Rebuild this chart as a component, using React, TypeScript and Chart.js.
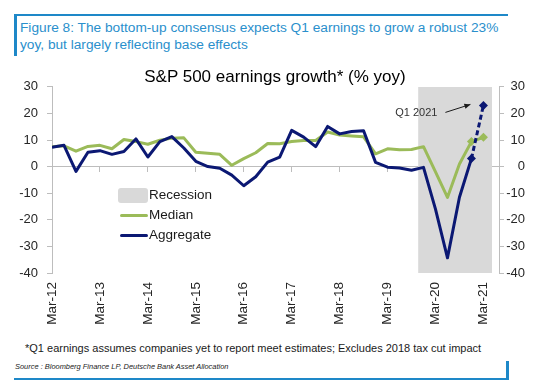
import React, { useEffect, useRef } from 'react';
import { Chart, registerables } from 'chart.js';

Chart.register(...registerables);

// ---- data (quarterly, Mar-12 .. Mar-21) ----
const yearTickLabels = ['Mar-12', 'Mar-13', 'Mar-14', 'Mar-15', 'Mar-16', 'Mar-17', 'Mar-18', 'Mar-19', 'Mar-20', 'Mar-21'];
const yearTickQuarters = [0, 4, 8, 12, 16, 20, 24, 28, 32, 36];
const medianGrowth = [7.5, 7.8, 5.8, 7.6, 8, 6.7, 10.2, 9.4, 8.4, 9.9, 10.7, 10.8, 5.4, 5, 4.6, 0.5, 3, 5.2, 8.7, 8.6, 9.4, 9.8, 9.8, 13, 11.9, 11.5, 11.2, 4.8, 6.7, 6.3, 6.4, 7.5, -2, -11.6, 1, 9.4, 11];
const aggregateGrowth = [7.3, 8, -1.8, 5.4, 6, 4.6, 5.7, 10.4, 3.6, 9.4, 11.3, 7, 2, 0, -0.6, -3.2, -7.2, -3.8, 1.7, 3.6, 13.6, 11.1, 7.5, 15.1, 12.3, 13.2, 13.5, 1.6, -0.2, -0.5, -1.4, -0.3, -16, -34.3, -11.5, 3, 23];
const recessionSpan = [30.55, 36.72];
const xMax = 37.3;
const yMin = -40;
const yMax = 30;
const yStep = 10;
const estimateFromIndex = 35;
const annotationIndex = 36;
const annotationText = 'Q1 2021';

const NAVY = '#0b1873';
const GREEN = '#9bbb59';
const GREY_FILL = '#d9d9d9';
const AXIS = '#bdbdbd';
const TICK_TEXT = '#262626';
const FONT = "'Liberation Sans', Arial, sans-serif";

const q1Annotation = {
  id: 'q1Annotation',
  afterDatasetsDraw(chart: any) {
    const meta = chart.getDatasetMeta(0);
    const pt = meta.data[annotationIndex];
    if (!pt) return;
    const ctx = chart.ctx;
    const x = pt.x;
    const y = pt.y;
    const x1 = x - 38, y1 = y + 7, x2 = x - 13, y2 = y - 1;
    ctx.save();
    ctx.strokeStyle = '#1a1a1a';
    ctx.fillStyle = '#1a1a1a';
    ctx.lineWidth = 1;
    ctx.beginPath();
    ctx.moveTo(x1, y1);
    ctx.lineTo(x2, y2);
    ctx.stroke();
    const ang = Math.atan2(y2 - y1, x2 - x1);
    const hl = 6, hw = 2.6;
    ctx.beginPath();
    ctx.moveTo(x2, y2);
    ctx.lineTo(x2 - hl * Math.cos(ang) + hw * Math.sin(ang), y2 - hl * Math.sin(ang) - hw * Math.cos(ang));
    ctx.lineTo(x2 - hl * Math.cos(ang) - hw * Math.sin(ang), y2 - hl * Math.sin(ang) + hw * Math.cos(ang));
    ctx.closePath();
    ctx.fill();
    ctx.font = `11px ${FONT}`;
    ctx.fillStyle = '#333333';
    ctx.textAlign = 'right';
    ctx.textBaseline = 'middle';
    ctx.fillText(annotationText, x - 46, y + 8);
    ctx.restore();
  },
};

function setYearTicks(scale: any) {
  scale.ticks = yearTickQuarters.map((v) => ({ value: v }));
}

export default function App() {
  const canvasRef = useRef<HTMLCanvasElement | null>(null);

  useEffect(() => {
    if (!canvasRef.current) return;
    Chart.defaults.font.family = FONT;
    const pointSizes = (n: number) => Array.from({ length: n }, (_, i) => (i >= estimateFromIndex ? 4.5 : 0));
    const chart = new Chart(canvasRef.current, {
      type: 'line',
      data: {
        datasets: [
          {
            label: 'Aggregate',
            data: aggregateGrowth.map((v, i) => ({ x: i, y: v })),
            borderColor: NAVY,
            backgroundColor: NAVY,
            borderWidth: 3,
            borderJoinStyle: 'round',
            pointStyle: 'rectRot',
            pointRadius: pointSizes(aggregateGrowth.length),
            pointBackgroundColor: NAVY,
            pointBorderColor: NAVY,
            pointBorderWidth: 0,
            tension: 0,
            fill: false,
            order: 1,
            segment: {
              borderDash: (ctx: any) => (ctx.p0DataIndex >= estimateFromIndex ? [5, 3] : undefined),
            },
          } as any,
          {
            label: 'Median',
            data: medianGrowth.map((v, i) => ({ x: i, y: v })),
            borderColor: GREEN,
            backgroundColor: GREEN,
            borderWidth: 3,
            borderJoinStyle: 'round',
            pointStyle: 'rectRot',
            pointRadius: pointSizes(medianGrowth.length),
            pointBackgroundColor: GREEN,
            pointBorderColor: GREEN,
            pointBorderWidth: 0,
            tension: 0,
            fill: false,
            order: 2,
          } as any,
          {
            label: 'Recession',
            data: [
              { x: recessionSpan[0], y: yMax },
              { x: recessionSpan[1], y: yMax },
            ],
            borderWidth: 0,
            borderColor: 'rgba(0,0,0,0)',
            backgroundColor: GREY_FILL,
            pointRadius: 0,
            fill: { value: yMin },
            order: 3,
          } as any,
        ],
      },
      options: {
        animation: false,
        responsive: false,
        events: [],
        layout: { padding: { top: 16, left: 0, right: 0, bottom: 0 } },
        plugins: {
          legend: { display: false },
          tooltip: { enabled: false },
        },
        scales: {
          x: {
            type: 'linear',
            position: 'bottom',
            min: 0,
            max: xMax,
            afterBuildTicks: setYearTicks,
            afterFit: (s: any) => {
              s.height = 62;
            },
            grid: { display: false, drawTicks: false },
            border: { display: false },
            ticks: {
              autoSkip: false,
              minRotation: 90,
              maxRotation: 90,
              padding: 9,
              color: TICK_TEXT,
              font: { size: 13.5, family: FONT },
              callback: (_v: any, i: number) => yearTickLabels[i],
            },
          },
          xZero: {
            type: 'linear',
            axis: 'x',
            position: { y: 0 },
            min: 0,
            max: xMax,
            afterBuildTicks: setYearTicks,
            grid: { drawOnChartArea: false, drawTicks: true, tickLength: 5, color: AXIS },
            border: { display: true, color: AXIS, width: 1 },
            ticks: { display: false },
          },
          y: {
            type: 'linear',
            position: 'left',
            min: yMin,
            max: yMax,
            afterFit: (s: any) => {
              s.width = 44;
            },
            grid: { drawOnChartArea: false, tickLength: 5, color: AXIS },
            border: { display: true, color: AXIS },
            ticks: { stepSize: yStep, padding: 9, color: TICK_TEXT, font: { size: 13, family: FONT } },
          },
          y2: {
            type: 'linear',
            position: 'right',
            min: yMin,
            max: yMax,
            afterFit: (s: any) => {
              s.width = 26;
            },
            grid: { drawOnChartArea: false, tickLength: 5, color: AXIS },
            border: { display: true, color: AXIS },
            ticks: { stepSize: yStep, crossAlign: 'far', padding: 3, color: TICK_TEXT, font: { size: 13, family: FONT } },
          },
        } as any,
      },
      plugins: [q1Annotation],
    });
    return () => chart.destroy();
  }, []);

  const blue = '#1e88c8';
  const abs = (o: React.CSSProperties): React.CSSProperties => ({ position: 'absolute', ...o });

  return (
    <div style={{ position: 'relative', width: 535, height: 375, fontFamily: FONT }}>
      {/* frame */}
      <div style={abs({ left: 6, top: 6, width: 494, height: 2, background: blue })} />
      <div style={abs({ left: 6, top: 6, width: 2.5, height: 42, background: blue })} />
      <div style={abs({ left: 6, top: 369.5, width: 494.5, height: 2.5, background: blue })} />
      <div style={abs({ left: 498, top: 353, width: 2.5, height: 19, background: blue })} />
      <div style={abs({ left: 12, top: 12, fontSize: 13.7, lineHeight: '16.5px', color: '#2a8fcc', whiteSpace: 'nowrap' })}>
        Figure 8: The bottom-up consensus expects Q1 earnings to grow a robust 23%
        <br />
        yoy, but largely reflecting base effects
      </div>
      <canvas
        ref={canvasRef}
        width={517}
        height={265}
        style={abs({ left: 0, top: 62, width: 517, height: 265 })}
      />
      <div style={abs({ left: 0, top: 59.5, width: 534, textAlign: 'center', fontSize: 17, lineHeight: '18px', color: '#000', whiteSpace: 'nowrap' })}>
        S&amp;P 500 earnings growth* (% yoy)
      </div>
      {/* legend */}
      <div style={abs({ left: 110.3, top: 180.3, width: 30, height: 14.5, background: GREY_FILL, borderRadius: 3 })} />
      <div style={abs({ left: 141, top: 177, fontSize: 13.5, lineHeight: '20px', color: '#1a1a1a' })}>Recession</div>
      <div style={abs({ left: 112, top: 205.5, width: 28, height: 3, background: GREEN, borderRadius: 1.5 })} />
      <div style={abs({ left: 141, top: 197, fontSize: 13.5, lineHeight: '20px', color: '#1a1a1a' })}>Median</div>
      <div style={abs({ left: 112, top: 225.5, width: 28, height: 3, background: NAVY, borderRadius: 1.5 })} />
      <div style={abs({ left: 141, top: 217, fontSize: 13.5, lineHeight: '20px', color: '#1a1a1a' })}>Aggregate</div>
      {/* footnotes */}
      <div style={abs({ left: 17, top: 333, fontSize: 11, lineHeight: '14px', color: '#1a1a1a', whiteSpace: 'nowrap' })}>
        *Q1 earnings assumes companies yet to report meet estimates; Excludes 2018 tax cut impact
      </div>
      <div style={abs({ left: 7, top: 354, fontSize: 7.45, lineHeight: '10px', fontStyle: 'italic', color: '#1a1a1a', whiteSpace: 'nowrap' })}>
        Source : Bloomberg Finance LP, Deutsche Bank Asset Allocation
      </div>
    </div>
  );
}
